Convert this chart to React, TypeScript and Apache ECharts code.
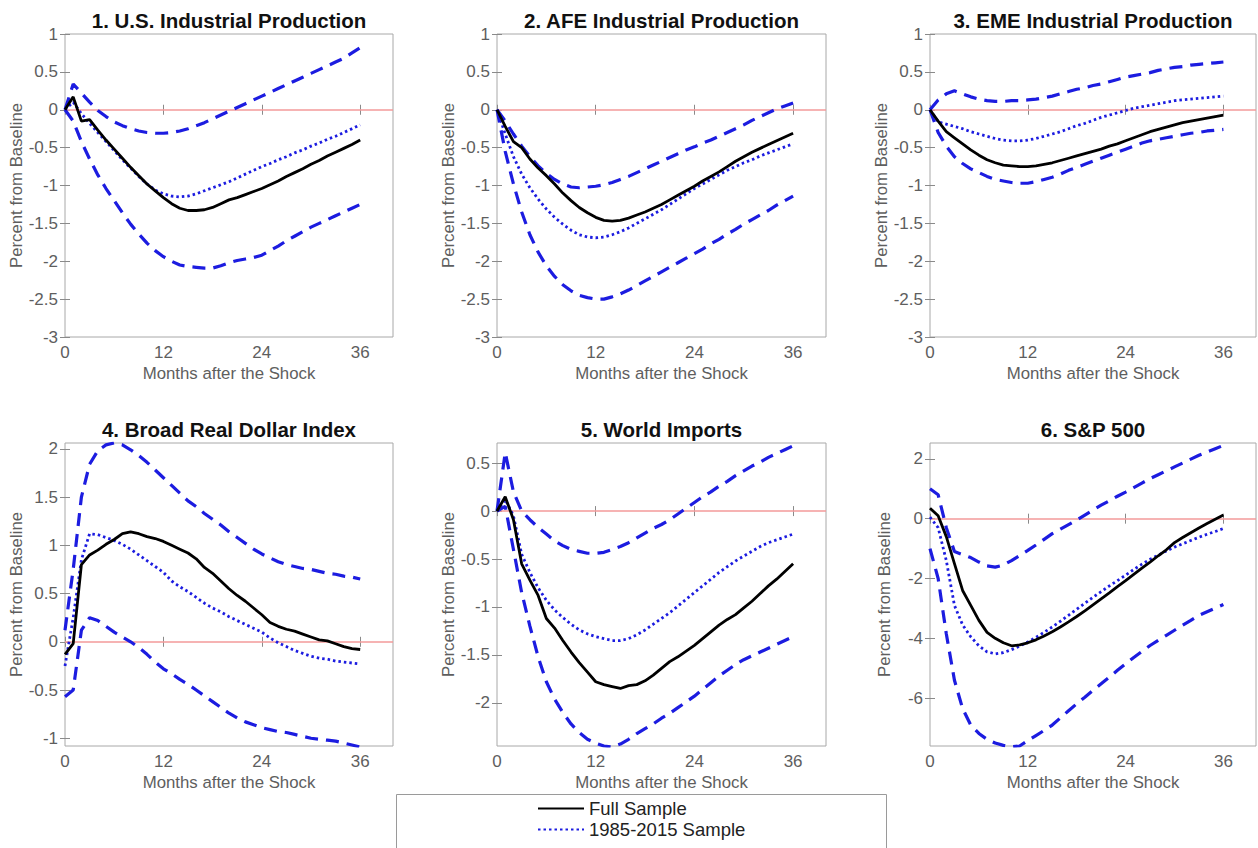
import React, { useEffect, useRef } from "react";
import * as echarts from "echarts";

const MONTHS = [0, 1, 2, 3, 4, 5, 6, 7, 8, 9, 10, 11, 12, 13, 14, 15, 16, 17, 18, 19, 20, 21, 22, 23, 24, 25, 26, 27, 28, 29, 30, 31, 32, 33, 34, 35, 36];
const X_TICKS = [0, 12, 24, 36];
const X_RANGE = [0, 40];

const TITLES = [
  "1. U.S. Industrial Production",
  "2. AFE Industrial Production",
  "3. EME Industrial Production",
  "4. Broad Real Dollar Index",
  "5. World Imports",
  "6. S&P 500",
];
const SERIES_NAMES = ["Full Sample", "1985-2015 Sample"];

const IP_Y_TICKS = [-3, -2.5, -2, -1.5, -1, -0.5, 0, 0.5, 1];
const IP_Y_RANGE = [-3, 1];
const DOLLAR_Y_TICKS = [-1, -0.5, 0, 0.5, 1, 1.5, 2];
const DOLLAR_Y_RANGE = [-1.08, 2.06];
const IMPORTS_Y_TICKS = [-2, -1.5, -1, -0.5, 0, 0.5];
const IMPORTS_Y_RANGE = [-2.45, 0.71];
const SP_Y_TICKS = [-6, -4, -2, 0, 2];
const SP_Y_RANGE = [-7.6, 2.53];

// 1. U.S. Industrial Production
const US_FULL = [0, 0.17, -0.15, -0.13, -0.27, -0.4, -0.52, -0.64, -0.76, -0.87, -0.98, -1.07, -1.16, -1.24, -1.3, -1.33, -1.33, -1.32, -1.29, -1.24, -1.19, -1.16, -1.12, -1.08, -1.04, -0.99, -0.94, -0.88, -0.83, -0.78, -0.72, -0.67, -0.61, -0.56, -0.51, -0.46, -0.4];
const US_SUB = [0, 0.1, -0.05, -0.18, -0.3, -0.42, -0.54, -0.66, -0.77, -0.88, -0.98, -1.06, -1.11, -1.14, -1.15, -1.14, -1.11, -1.07, -1.03, -0.99, -0.95, -0.9, -0.85, -0.8, -0.75, -0.71, -0.66, -0.62, -0.57, -0.53, -0.48, -0.44, -0.39, -0.35, -0.3, -0.25, -0.2];
const US_UPPER = [0, 0.34, 0.22, 0.1, -0.01, -0.09, -0.16, -0.21, -0.25, -0.28, -0.3, -0.31, -0.31, -0.3, -0.28, -0.25, -0.21, -0.17, -0.12, -0.07, -0.02, 0.03, 0.08, 0.13, 0.18, 0.23, 0.28, 0.33, 0.38, 0.43, 0.48, 0.53, 0.58, 0.63, 0.68, 0.75, 0.82];
const US_LOWER = [0, -0.15, -0.42, -0.65, -0.86, -1.04, -1.2, -1.36, -1.51, -1.64, -1.76, -1.86, -1.94, -2.0, -2.05, -2.07, -2.08, -2.09, -2.09, -2.06, -2.02, -1.99, -1.97, -1.95, -1.92, -1.86, -1.8, -1.73, -1.67, -1.61, -1.55, -1.5, -1.45, -1.4, -1.35, -1.3, -1.25];

// 2. AFE Industrial Production
const AFE_FULL = [0, -0.22, -0.42, -0.5, -0.65, -0.77, -0.87, -0.98, -1.1, -1.2, -1.29, -1.36, -1.42, -1.46, -1.47, -1.46, -1.43, -1.39, -1.35, -1.3, -1.25, -1.19, -1.13, -1.07, -1.01, -0.94, -0.88, -0.82, -0.75, -0.68, -0.62, -0.56, -0.51, -0.46, -0.41, -0.36, -0.31];
const AFE_SUB = [0, -0.32, -0.62, -0.85, -1.03, -1.18, -1.31, -1.42, -1.51, -1.59, -1.65, -1.68, -1.69, -1.68, -1.65, -1.61, -1.56, -1.5, -1.44, -1.38, -1.32, -1.25, -1.18, -1.11, -1.04, -0.98, -0.92, -0.86, -0.8, -0.75, -0.7, -0.66, -0.61, -0.57, -0.53, -0.49, -0.45];
const AFE_UPPER = [0, -0.15, -0.32, -0.48, -0.62, -0.74, -0.84, -0.92, -0.98, -1.02, -1.03, -1.02, -1.01, -0.99, -0.96, -0.92, -0.88, -0.83, -0.78, -0.73, -0.68, -0.63, -0.58, -0.53, -0.49, -0.44, -0.4, -0.35, -0.3, -0.25, -0.2, -0.14, -0.09, -0.04, 0.01, 0.05, 0.09];
const AFE_LOWER = [0, -0.55, -0.98, -1.35, -1.65, -1.88, -2.06, -2.2, -2.31, -2.39, -2.45, -2.48, -2.5, -2.5, -2.47, -2.43, -2.38, -2.32, -2.26, -2.2, -2.14, -2.08, -2.02, -1.96, -1.9, -1.84, -1.77, -1.71, -1.64, -1.58, -1.51, -1.45, -1.39, -1.33, -1.26, -1.2, -1.14];

// 3. EME Industrial Production
const EME_FULL = [0, -0.15, -0.29, -0.37, -0.45, -0.53, -0.6, -0.66, -0.7, -0.73, -0.74, -0.75, -0.75, -0.74, -0.72, -0.7, -0.67, -0.64, -0.61, -0.58, -0.55, -0.52, -0.48, -0.45, -0.41, -0.37, -0.33, -0.29, -0.26, -0.23, -0.2, -0.17, -0.15, -0.13, -0.11, -0.09, -0.07];
const EME_SUB = [0, -0.16, -0.19, -0.22, -0.25, -0.29, -0.32, -0.35, -0.38, -0.4, -0.41, -0.41, -0.4, -0.38, -0.35, -0.32, -0.29, -0.25, -0.21, -0.18, -0.14, -0.1, -0.07, -0.04, -0.01, 0.02, 0.04, 0.06, 0.08, 0.1, 0.12, 0.13, 0.14, 0.15, 0.16, 0.17, 0.18];
const EME_UPPER = [0, 0.13, 0.21, 0.25, 0.21, 0.17, 0.14, 0.12, 0.11, 0.11, 0.12, 0.12, 0.13, 0.14, 0.16, 0.18, 0.21, 0.24, 0.27, 0.29, 0.32, 0.34, 0.37, 0.4, 0.43, 0.45, 0.47, 0.49, 0.52, 0.54, 0.56, 0.57, 0.59, 0.6, 0.61, 0.62, 0.63];
const EME_LOWER = [0, -0.3, -0.48, -0.62, -0.71, -0.78, -0.83, -0.88, -0.92, -0.94, -0.96, -0.97, -0.97, -0.95, -0.92, -0.89, -0.85, -0.8, -0.76, -0.72, -0.68, -0.64, -0.6, -0.56, -0.52, -0.48, -0.44, -0.41, -0.39, -0.37, -0.35, -0.33, -0.31, -0.3, -0.28, -0.27, -0.26];

// 4. Broad Real Dollar Index
const DOLLAR_FULL = [-0.13, -0.02, 0.8, 0.9, 0.95, 1.01, 1.06, 1.12, 1.14, 1.12, 1.09, 1.07, 1.04, 1.0, 0.96, 0.92, 0.86, 0.77, 0.71, 0.63, 0.55, 0.48, 0.42, 0.35, 0.28, 0.2, 0.16, 0.13, 0.11, 0.08, 0.05, 0.02, 0.01, -0.02, -0.05, -0.07, -0.08];
const DOLLAR_SUB = [-0.25, 0.25, 0.85, 1.12, 1.11, 1.08, 1.05, 1.01, 0.96, 0.9, 0.84, 0.78, 0.72, 0.63, 0.57, 0.52, 0.46, 0.4, 0.35, 0.31, 0.26, 0.22, 0.18, 0.14, 0.1, 0.04, -0.01, -0.05, -0.09, -0.12, -0.15, -0.17, -0.18, -0.2, -0.21, -0.22, -0.23];
const DOLLAR_UPPER = [0.12, 0.75, 1.5, 1.84, 1.98, 2.04, 2.06, 2.04, 1.99, 1.93, 1.86, 1.78, 1.7, 1.62, 1.54, 1.46, 1.4, 1.33, 1.27, 1.21, 1.14, 1.08, 1.02, 0.96, 0.91, 0.87, 0.83, 0.8, 0.78, 0.76, 0.75, 0.73, 0.71, 0.7, 0.68, 0.67, 0.65];
const DOLLAR_LOWER = [-0.57, -0.5, 0.12, 0.25, 0.22, 0.16, 0.1, 0.05, 0.0, -0.06, -0.13, -0.21, -0.28, -0.33, -0.39, -0.44, -0.5, -0.56, -0.62, -0.68, -0.74, -0.79, -0.83, -0.86, -0.89, -0.91, -0.93, -0.94, -0.96, -0.98, -1.0, -1.01, -1.02, -1.03, -1.05, -1.07, -1.09];

// 5. World Imports
const IMPORTS_FULL = [0, 0.15, -0.09, -0.55, -0.72, -0.88, -1.12, -1.22, -1.35, -1.47, -1.58, -1.68, -1.78, -1.81, -1.83, -1.85, -1.82, -1.81, -1.77, -1.71, -1.64, -1.57, -1.52, -1.46, -1.4, -1.33, -1.26, -1.19, -1.13, -1.08, -1.01, -0.94, -0.86, -0.78, -0.71, -0.63, -0.55];
const IMPORTS_SUB = [0, 0.12, -0.05, -0.45, -0.64, -0.8, -0.93, -1.03, -1.11, -1.18, -1.24, -1.28, -1.31, -1.33, -1.35, -1.35, -1.33, -1.29, -1.24, -1.18, -1.12, -1.06, -0.99, -0.92, -0.85, -0.78, -0.71, -0.64, -0.58, -0.52, -0.47, -0.42, -0.37, -0.33, -0.3, -0.27, -0.24];
const IMPORTS_UPPER = [0, 0.61, 0.2, 0.0, -0.09, -0.17, -0.24, -0.31, -0.36, -0.4, -0.42, -0.44, -0.44, -0.43, -0.4, -0.37, -0.33, -0.28, -0.23, -0.18, -0.14, -0.09, -0.03, 0.03, 0.09, 0.15, 0.2, 0.26, 0.31, 0.37, 0.42, 0.47, 0.51, 0.56, 0.6, 0.64, 0.68];
const IMPORTS_LOWER = [0, 0.05, -0.4, -0.85, -1.2, -1.52, -1.78, -1.96, -2.1, -2.22, -2.31, -2.38, -2.42, -2.45, -2.46, -2.43, -2.38, -2.32, -2.27, -2.22, -2.16, -2.11, -2.05, -1.99, -1.93, -1.86, -1.79, -1.72, -1.66, -1.6, -1.55, -1.51, -1.47, -1.43, -1.39, -1.35, -1.31];

// 6. S&P 500
const SP_FULL = [0.35, 0.1, -0.6, -1.5, -2.4, -2.9, -3.4, -3.8, -4.0, -4.15, -4.25, -4.22, -4.15, -4.05, -3.92, -3.78, -3.62, -3.45, -3.27, -3.08, -2.88, -2.68, -2.48, -2.27, -2.07, -1.86, -1.65, -1.45, -1.24, -1.04, -0.8, -0.63, -0.47, -0.31, -0.16, -0.02, 0.12];
const SP_SUB = [0.05, -0.3, -1.4, -2.9, -3.55, -3.95, -4.25, -4.45, -4.52, -4.48, -4.38, -4.26, -4.12, -3.97, -3.8, -3.62, -3.43, -3.23, -3.03, -2.83, -2.63, -2.44, -2.25, -2.07, -1.89, -1.7, -1.52, -1.36, -1.22, -1.08, -0.95, -0.84, -0.73, -0.62, -0.52, -0.43, -0.33];
const SP_UPPER = [1.0, 0.8, -0.3, -1.1, -1.2, -1.3, -1.45, -1.58, -1.62, -1.55, -1.4, -1.23, -1.06, -0.88, -0.69, -0.5, -0.35, -0.2, -0.05, 0.12, 0.29, 0.45, 0.6, 0.75, 0.89, 1.04, 1.19, 1.34, 1.47, 1.6, 1.73, 1.86, 1.99, 2.12, 2.23, 2.34, 2.45];
const SP_LOWER = [-1.0, -2.0, -3.85, -5.4, -6.35, -6.9, -7.18, -7.38, -7.5, -7.58, -7.62, -7.6, -7.42, -7.25, -7.08, -6.9, -6.66, -6.42, -6.19, -5.97, -5.74, -5.52, -5.3, -5.07, -4.85, -4.64, -4.44, -4.24, -4.07, -3.9, -3.73, -3.56, -3.4, -3.23, -3.11, -2.99, -2.87];

const PANELS = [
  { full: US_FULL, sub: US_SUB, upper: US_UPPER, lower: US_LOWER, yRange: IP_Y_RANGE, yTicks: IP_Y_TICKS },
  { full: AFE_FULL, sub: AFE_SUB, upper: AFE_UPPER, lower: AFE_LOWER, yRange: IP_Y_RANGE, yTicks: IP_Y_TICKS },
  { full: EME_FULL, sub: EME_SUB, upper: EME_UPPER, lower: EME_LOWER, yRange: IP_Y_RANGE, yTicks: IP_Y_TICKS },
  { full: DOLLAR_FULL, sub: DOLLAR_SUB, upper: DOLLAR_UPPER, lower: DOLLAR_LOWER, yRange: DOLLAR_Y_RANGE, yTicks: DOLLAR_Y_TICKS },
  { full: IMPORTS_FULL, sub: IMPORTS_SUB, upper: IMPORTS_UPPER, lower: IMPORTS_LOWER, yRange: IMPORTS_Y_RANGE, yTicks: IMPORTS_Y_TICKS },
  { full: SP_FULL, sub: SP_SUB, upper: SP_UPPER, lower: SP_LOWER, yRange: SP_Y_RANGE, yTicks: SP_Y_TICKS },
];

// layout (pixels)
const GRIDS = [
  { left: 65, top: 34, width: 328, height: 303 },
  { left: 497, top: 34, width: 329, height: 303 },
  { left: 930, top: 34, width: 326, height: 303 },
  { left: 65, top: 443, width: 328, height: 303 },
  { left: 497, top: 443, width: 329, height: 303 },
  { left: 930, top: 443, width: 326, height: 303 },
];
const TITLE_Y = [20, 20, 20, 429, 429, 429];

const FONT = "'Liberation Sans', Arial, Helvetica, sans-serif";
const BLUE = "#1c1ce0";
const AXIS_GRAY = "#a8a8a8";
const TICK_GRAY = "#8a8a8a";
const LABEL_GRAY = "#5e5e5e";

function pairs(vals: number[]) {
  return MONTHS.map((m, i) => [m, vals[i]]);
}

export default function App() {
  const ref = useRef<HTMLDivElement>(null);

  useEffect(() => {
    if (!ref.current) return;
    const chart = echarts.init(ref.current, null, { renderer: "svg" });

    const grid: any[] = [];
    const xAxis: any[] = [];
    const yAxis: any[] = [];
    const series: any[] = [];
    const graphic: any[] = [];

    PANELS.forEach((p, i) => {
      const g = GRIDS[i];
      grid.push({
        left: g.left,
        top: g.top,
        width: g.width,
        height: g.height,
        show: true,
        borderColor: AXIS_GRAY,
        borderWidth: 1,
        backgroundColor: "#ffffff",
        containLabel: false,
      });
      const tick = (vals: number[]) => ({
        show: true,
        inside: true,
        length: 5,
        customValues: vals,
        lineStyle: { color: TICK_GRAY, width: 1 },
      });
      xAxis.push({
        type: "value",
        gridIndex: i,
        position: "bottom",
        min: X_RANGE[0],
        max: X_RANGE[1],
        axisLine: { show: false },
        axisTick: tick(X_TICKS),
        axisLabel: { customValues: X_TICKS, color: LABEL_GRAY, fontSize: 17, margin: 7, fontFamily: FONT },
        splitLine: { show: false },
        name: "Months after the Shock",
        nameLocation: "middle",
        nameGap: 28,
        nameTextStyle: { color: LABEL_GRAY, fontSize: 16.8, fontFamily: FONT },
      });
      xAxis.push({
        type: "value",
        gridIndex: i,
        position: "top",
        min: X_RANGE[0],
        max: X_RANGE[1],
        axisLine: { show: false },
        axisTick: tick(X_TICKS),
        axisLabel: { show: false },
        splitLine: { show: false },
      });
      yAxis.push({
        type: "value",
        gridIndex: i,
        position: "left",
        min: p.yRange[0],
        max: p.yRange[1],
        axisLine: { show: false },
        axisTick: tick(p.yTicks),
        axisLabel: { customValues: p.yTicks, color: LABEL_GRAY, fontSize: 17, margin: 7, fontFamily: FONT },
        splitLine: { show: false },
        name: "Percent from Baseline",
        nameLocation: "middle",
        nameGap: 37,
        nameTextStyle: { color: LABEL_GRAY, fontSize: 16.8, fontFamily: FONT },
      });
      yAxis.push({
        type: "value",
        gridIndex: i,
        position: "right",
        min: p.yRange[0],
        max: p.yRange[1],
        axisLine: { show: false },
        axisTick: tick(p.yTicks),
        axisLabel: { show: false },
        splitLine: { show: false },
      });
      const xi = 2 * i;
      const yi = 2 * i;
      series.push({
        type: "line",
        name: "upper",
        xAxisIndex: xi,
        yAxisIndex: yi,
        data: pairs(p.upper),
        symbol: "none",
        lineStyle: { color: BLUE, width: 3.2, type: [13, 8] },
        z: 3,
        markLine: {
          silent: true,
          symbol: "none",
          label: { show: false },
          lineStyle: { color: "#f39a9a", width: 1.5, type: "solid" },
          data: [{ yAxis: 0 }],
          z: 1,
        },
      });
      series.push({
        type: "line",
        name: "lower",
        xAxisIndex: xi,
        yAxisIndex: yi,
        data: pairs(p.lower),
        symbol: "none",
        lineStyle: { color: BLUE, width: 3.2, type: [13, 8] },
        z: 3,
      });
      series.push({
        type: "line",
        name: SERIES_NAMES[1],
        xAxisIndex: xi,
        yAxisIndex: yi,
        data: pairs(p.sub),
        symbol: "none",
        color: BLUE,
        lineStyle: { color: BLUE, width: 2.8, type: [2.5, 3] },
        z: 4,
      });
      series.push({
        type: "line",
        name: SERIES_NAMES[0],
        xAxisIndex: xi,
        yAxisIndex: yi,
        data: pairs(p.full),
        symbol: "none",
        color: "#000000",
        lineStyle: { color: "#000000", width: 2.8, type: "solid" },
        z: 5,
      });
      graphic.push({
        type: "text",
        x: g.left + g.width / 2,
        y: TITLE_Y[i],
        style: {
          text: TITLES[i],
          fill: "#111111",
          font: `bold 20.5px ${FONT}`,
          textAlign: "center",
          textVerticalAlign: "middle",
        },
      });
    });

    graphic.push({
      type: "rect",
      shape: { x: 396.5, y: 794.5, width: 490, height: 70 },
      style: { fill: "#ffffff", stroke: "#9a9a9a", lineWidth: 1 },
      z: 0,
    });

    chart.setOption({
      animation: false,
      backgroundColor: "#ffffff",
      textStyle: { fontFamily: FONT },
      grid,
      xAxis,
      yAxis,
      series,
      graphic,
      legend: {
        data: SERIES_NAMES,
        orient: "vertical",
        left: 537,
        top: 799,
        itemWidth: 46,
        itemHeight: 14,
        itemGap: 2,
        itemTextGap: 5,
        padding: 0,
        selectedMode: false,
        z: 10,
        itemStyle: { opacity: 0 },
        textStyle: { color: "#222222", fontSize: 18.5, fontFamily: FONT },
      },
    });

    return () => chart.dispose();
  }, []);

  return (
    <div style={{ position: "absolute", left: 0, top: 0, width: 1258, height: 848, background: "#fff" }}>
      <div ref={ref} style={{ width: 1258, height: 848 }} />
    </div>
  );
}
